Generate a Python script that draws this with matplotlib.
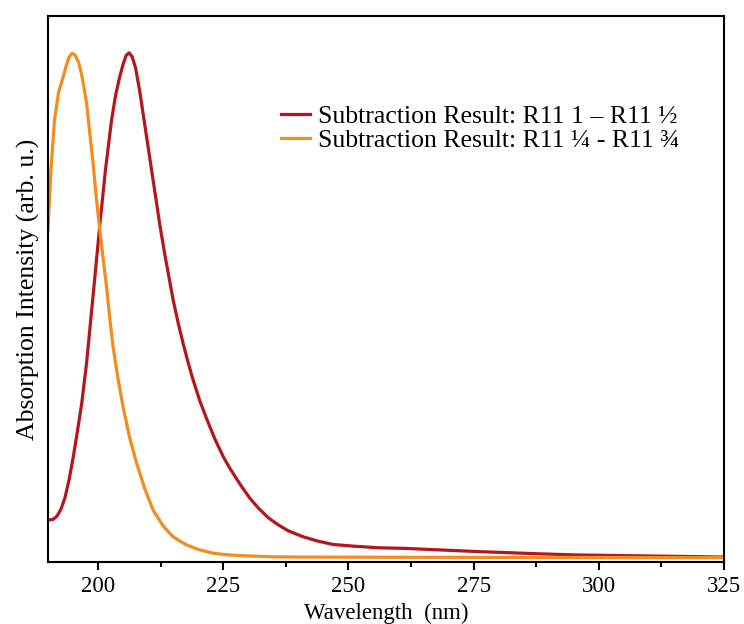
import matplotlib.pyplot as plt
import numpy as np

# Values (arb. units, 0..1 of the plot height)
redWavelength = [190, 191, 191.8, 192.6, 193.4, 194.2, 195, 195.7, 196.7, 197.7, 198.5, 199.3,
                 200.3, 201.5, 202.7, 203.5, 204.3, 205, 205.6, 206.2, 206.8, 207.5, 208.3,
                 209.3, 210.3, 211.3, 212.3, 213.3, 214.2, 215, 216, 217, 218, 219, 220.3,
                 221.7, 223.3, 225, 226.3, 228.4, 230.3, 232, 234, 236, 238, 241, 244, 247,
                 251, 256, 261, 266, 271, 276, 282, 288, 295, 302, 310, 318, 325]
redIntensity = [0.077, 0.078, 0.084, 0.097, 0.118, 0.150, 0.19, 0.229, 0.288, 0.364, 0.44, 0.516,
                0.613, 0.72, 0.81, 0.855, 0.888, 0.912, 0.928, 0.933, 0.926, 0.905, 0.864,
                0.803, 0.742, 0.681, 0.62, 0.565, 0.52, 0.48, 0.438, 0.40, 0.365, 0.333, 0.296,
                0.262, 0.226, 0.193, 0.172, 0.142, 0.117, 0.099, 0.081, 0.068, 0.057, 0.046, 0.038, 0.032,
                0.029, 0.026, 0.025, 0.023, 0.021, 0.019, 0.017, 0.015, 0.013, 0.012, 0.011, 0.010, 0.009]

orangeWavelength = [190, 190.6, 191.3, 192.1, 193, 193.6, 194.2, 194.8, 195.4, 196.1, 196.8,
                    197.7, 198.3, 199, 199.6, 200.3, 201, 201.7, 202.3, 203, 204, 205, 206.3,
                    207.7, 209.3, 211, 213, 215, 217.5, 220, 223, 226, 230, 235, 240, 250, 260,
                    280, 300, 325]
orangeIntensity = [0.608, 0.72, 0.81, 0.86, 0.888, 0.908, 0.925, 0.932, 0.929, 0.916, 0.89,
                   0.841, 0.79, 0.731, 0.672, 0.613, 0.557, 0.504, 0.45, 0.394, 0.335, 0.284, 0.228,
                   0.181, 0.135, 0.095, 0.066, 0.046, 0.032, 0.023, 0.016, 0.013, 0.011, 0.0095, 0.009,
                   0.0088, 0.0086, 0.0084, 0.0082, 0.008]

seriesLabels = ['Subtraction Result: R11 1 \u2013 R11 \u00bd',
                'Subtraction Result: R11 \u00bc - R11 \u00be']
xTicks = [200, 225, 250, 275, 300, 325]

plt.rcParams['font.family'] = ['Liberation Serif', 'DejaVu Serif']

fig = plt.figure(figsize=(7.44, 6.24), dpi=100)
ax = fig.add_axes([0.0645, 0.0994, 0.9085, 0.8746])

ax.plot(redWavelength, redIntensity, color='#B3161B', linewidth=2.3,
        solid_joinstyle='round', label=seriesLabels[0])
ax.plot(orangeWavelength, orangeIntensity, color='#F28C1C', linewidth=2.3,
        solid_joinstyle='round', label=seriesLabels[1])

ax.set_xlim(190, 325)
ax.set_ylim(0, 1)
ax.set_xticks(xTicks)
ax.set_xticks(np.arange(212.5, 325, 25), minor=True)
ax.set_yticks([])
ax.tick_params(axis='x', which='major', direction='out', length=6, width=1.5, labelsize=16.5, pad=4)
ax.tick_params(axis='x', which='minor', direction='out', length=3.5, width=1.5)
for spine in ax.spines.values():
    spine.set_linewidth(1.5)

ax.set_xlabel('Wavelength  (nm)', fontsize=16.5, labelpad=4)
ax.set_ylabel('Absorption Intensity (arb. u.)', fontsize=18.5, labelpad=6)

ax.legend(loc='upper left', bbox_to_anchor=(0.31, 0.88), frameon=False, fontsize=18.5,
          handlelength=1.15, handletextpad=0.3, labelspacing=0.05)

fig.savefig('out.png', dpi=100)
